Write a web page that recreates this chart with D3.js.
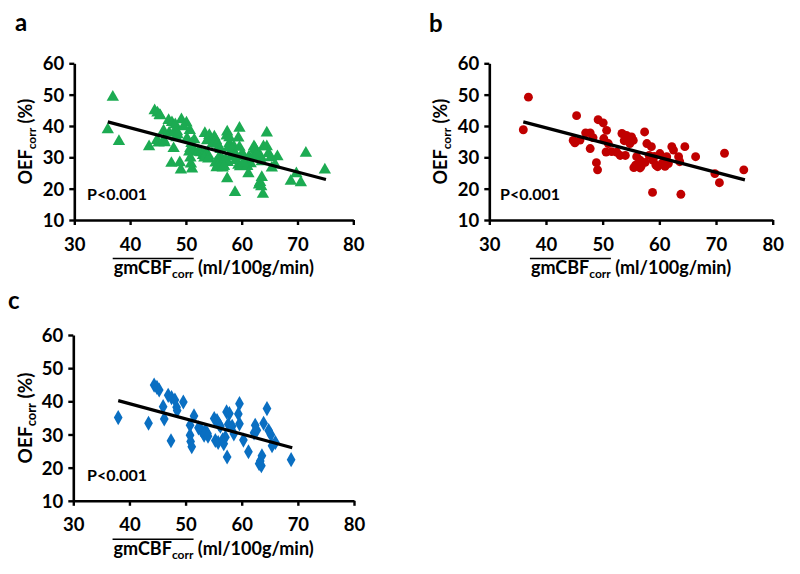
<!DOCTYPE html>
<html>
<head>
<meta charset="utf-8">
<script src="https://cdn.jsdelivr.net/npm/d3@7"></script>
<style>
  html, body { margin: 0; padding: 0; background: #fff; }
  svg { display: block; }
  text { font-family: Lato, "Open Sans", sans-serif; font-weight: bold; fill: #000; }
</style>
</head>
<body>
<svg id="chart" width="800" height="574"></svg>
<script>
// ---------- DATA ----------
const xTicks = [30, 40, 50, 60, 70, 80];
const yTicks = [10, 20, 30, 40, 50, 60];
const xDomain = [30, 80];
const yDomain = [10, 60];
const panelLetters = ["a", "b", "c"];
const pText = "P<0.001";

// panel b: gmCBFcorr vs OEFcorr (red circles)
const pointsB = [
  [36.9,49.2],[36.0,38.8],[45.4,43.3],[44.8,35.4],[45.1,34.6],[46.0,35.5],[47.0,37.8],[47.8,37.8],
  [48.3,36.3],[47.8,32.8],[48.9,28.3],[49.1,26.0],[49.2,42.0],[50.1,41.0],[50.7,38.6],[50.2,36.0],
  [51.0,34.4],[50.6,31.7],[51.6,31.8],[52.5,31.6],[53.4,37.6],[54.2,37.0],[55.1,36.5],[53.8,35.3],
  [54.8,34.4],[55.4,35.4],[53.1,30.6],[54.0,30.6],[56.0,30.2],[56.6,29.1],[55.8,27.5],[56.8,27.2],
  [57.5,28.4],[55.5,26.7],[56.6,26.6],[57.4,38.1],[57.8,34.4],[58.6,33.4],[58.2,30.6],[59.1,30.3],
  [58.9,29.0],[59.4,27.5],[59.7,27.0],[60.5,28.1],[58.8,18.8],[60.1,31.2],[61.3,30.2],[61.6,28.0],
  [61.0,27.1],[62.2,33.4],[62.5,32.3],[63.4,30.2],[63.6,28.6],[64.5,33.4],[63.8,18.2],[66.4,30.2],
  [69.8,24.8],[70.6,21.9],[71.5,31.3],[74.9,26.0]
];

// panel c: blue diamonds
const pointsC = [
  [38.0,35.1],[43.4,33.4],[44.4,44.9],[44.9,44.2],[45.3,43.4],[46.0,38.4],[46.2,34.7],[46.9,41.8],
  [47.5,41.1],[47.4,28.1],[48.1,40.4],[48.4,38.2],[48.5,37.2],[49.6,39.8],[50.8,32.8],[50.8,29.8],
  [50.9,27.9],[51.1,26.3],[51.5,35.6],[52.3,32.0],[52.7,31.5],[53.1,30.6],[53.5,31.0],[53.9,30.3],
  [53.3,29.8],[54.0,29.5],[55.1,34.8],[55.6,34.2],[55.9,33.2],[56.2,32.5],[55.3,28.2],[55.8,27.6],
  [56.6,28.4],[57.1,29.2],[56.8,27.2],[57.3,36.8],[57.8,36.3],[57.4,23.2],[57.6,33.1],[58.3,32.5],
  [58.6,30.2],[59.4,36.2],[59.6,39.3],[59.6,33.2],[60.3,28.3],[61.2,24.8],[62.2,30.5],[62.4,32.8],
  [62.7,31.3],[63.9,33.4],[64.5,37.8],[64.8,31.2],[65.2,29.9],[65.4,26.6],[66.0,27.6],[63.3,22.0],
  [63.6,23.6],[63.1,21.2],[63.5,20.6],[68.8,22.4]
];

// panel a: all subjects (green triangles) = both groups
const pointsA = pointsB.concat(pointsC);

// regression line end points [x0, y0, x1, y1]
const fitA = [36.0, 41.3, 75.1, 22.9];
const fitB = [36.0, 41.3, 75.1, 22.8];
const fitC = [38.0, 40.2, 69.0, 26.0];

// ---------- LAYOUT ----------
const panels = [
  { letter: panelLetters[0], pts: pointsA, fit: fitA, shape: d3.symbolTriangle, size: 66, color: "#1CAB52",
    x0: 74.3, x1: 353.3, yTop: 63.3, yBot: 220, lx: 15, ly: 31, ylx: 32, pX: 87, pY: 200, xpad: 13, yfs: 18 },
  { letter: panelLetters[1], pts: pointsB, fit: fitB, shape: d3.symbolCircle, size: 62, color: "#C00000",
    x0: 489.3, x1: 772.7, yTop: 63.3, yBot: 220, lx: 429, ly: 32, ylx: 447, pX: 500, pY: 200, xpad: 13, yfs: 18 },
  { letter: panelLetters[2], pts: pointsC, fit: fitC, shape: d3.symbolDiamond, size: 66, color: "#0A6FC2",
    x0: 73.3, x1: 354, yTop: 335, yBot: 500.8, lx: 8, ly: 309, ylx: 32, pX: 87, pY: 481, xpad: 12, yfs: 19 }
];

const svg = d3.select("#chart");

panels.forEach(p => {
  const x = d3.scaleLinear().domain(xDomain).range([p.x0, p.x1]);
  const y = d3.scaleLinear().domain(yDomain).range([p.yBot, p.yTop]);
  const g = svg.append("g");

  // panel letter
  g.append("text").attr("x", p.lx).attr("y", p.ly).attr("font-size", 24).text(p.letter);

  // points
  g.append("g").selectAll("path").data(p.pts).join("path")
    .attr("transform", d => `translate(${x(d[0])},${y(d[1])})`)
    .attr("d", d3.symbol().type(p.shape).size(p.size))
    .attr("fill", p.color);

  // regression line
  g.append("line")
    .attr("x1", x(p.fit[0])).attr("y1", y(p.fit[1]))
    .attr("x2", x(p.fit[2])).attr("y2", y(p.fit[3]))
    .attr("stroke", "#000").attr("stroke-width", 3.2);

  // axes
  const xAxis = d3.axisBottom(x).tickValues(xTicks).tickSize(5).tickPadding(p.xpad).tickSizeOuter(0);
  const yAxis = d3.axisLeft(y).tickValues(yTicks).tickSize(5).tickPadding(5).tickSizeOuter(0);
  const gx = g.append("g").attr("transform", `translate(0,${p.yBot})`).call(xAxis);
  const gy = g.append("g").attr("transform", `translate(${p.x0},0)`).call(yAxis);
  [gx, gy].forEach(a => {
    a.select(".domain").attr("stroke", "#000").attr("stroke-width", 2.6);
    a.selectAll(".tick line").attr("stroke", "#000").attr("stroke-width", 2.4);
    a.selectAll(".tick text").attr("font-size", 18.5).attr("font-family", "Lato, sans-serif")
      .attr("font-weight", "bold").attr("fill", "#000");
  });
  gx.selectAll(".tick text").attr("dy", "0.71em");
  gy.selectAll(".tick text").attr("dy", "0.36em");

  // P value
  g.append("text").attr("x", p.pX).attr("y", p.pY).attr("font-size", 16).text(pText);

  // x label
  const cx = (p.x0 + p.x1) / 2;
  const xl = g.append("text").attr("x", cx).attr("y", p.yBot + 54)
    .attr("font-size", 18).attr("text-anchor", "middle");
  xl.append("tspan").text("gmCBF");
  xl.append("tspan").attr("font-size", 12).attr("dy", 4).text("corr");
  xl.append("tspan").attr("dy", -4).text(" (ml/100g/min)");
  const bb = xl.node().getBBox();
  g.append("line")
    .attr("x1", bb.x - 1).attr("x2", bb.x + 80)
    .attr("y1", p.yBot + 38.5).attr("y2", p.yBot + 38.5)
    .attr("stroke", "#000").attr("stroke-width", 1.5);

  // y label
  const cy = (p.yTop + p.yBot) / 2;
  const yl = g.append("text").attr("transform", `translate(${p.ylx},${cy}) rotate(-90)`)
    .attr("font-size", p.yfs).attr("text-anchor", "middle");
  yl.append("tspan").text("OEF");
  yl.append("tspan").attr("font-size", p.yfs - 6).attr("dy", 4).text("corr");
  yl.append("tspan").attr("dy", -4).text(" (%)");
});
</script>
</body>
</html>
